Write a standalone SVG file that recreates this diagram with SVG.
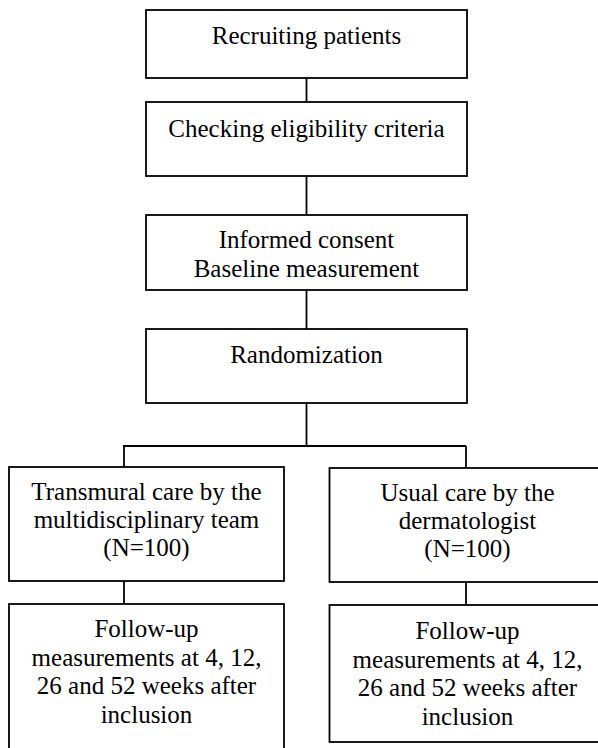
<svg xmlns="http://www.w3.org/2000/svg" width="598" height="748" viewBox="0 0 598 748">
<style>
rect{fill:#fff;stroke:#000;stroke-width:1.8}
.c line{stroke:#000;stroke-width:1.8}
text{font-family:"Liberation Serif","Times New Roman",serif;font-size:25px;fill:#000;text-anchor:middle}
</style>
<g class="c" id="connectors">
<line x1="306.5" y1="78" x2="306.5" y2="102"/>
<line x1="306.5" y1="176" x2="306.5" y2="215"/>
<line x1="306.5" y1="290" x2="306.5" y2="329"/>
<line x1="306.5" y1="403" x2="306.5" y2="446"/>
<line x1="123" y1="446" x2="466" y2="446"/>
<line x1="124" y1="446" x2="124" y2="467"/>
<line x1="466" y1="446" x2="466" y2="468"/>
<line x1="124" y1="581" x2="124" y2="604"/>
<line x1="466" y1="582" x2="466" y2="605"/>
</g>
<g id="recruit"><rect x="146" y="10" width="321" height="68"/><text x="306.5" y="44">Recruiting patients</text></g>
<g id="eligibility"><rect x="146" y="102" width="321" height="74"/><text x="306.5" y="137">Checking eligibility criteria</text></g>
<g id="consent"><rect x="146" y="215" width="321" height="75"/><text x="306.5" y="248">Informed consent</text><text x="306.5" y="277">Baseline measurement</text></g>
<g id="random"><rect x="146" y="329" width="321" height="74"/><text x="306.5" y="363">Randomization</text></g>
<g id="transmural"><rect x="9" y="467" width="275" height="114"/><text x="146.5" y="500">Transmural care by the</text><text x="146.5" y="528">multidisciplinary team</text><text x="146.5" y="556">(N=100)</text></g>
<g id="usual"><rect x="329.5" y="468" width="277" height="114"/><text x="467.5" y="501">Usual care by the</text><text x="467.5" y="529">dermatologist</text><text x="467.5" y="557">(N=100)</text></g>
<g id="followup-left"><rect x="9" y="604" width="275" height="150"/><text x="146.5" y="637">Follow-up</text><text x="146.5" y="666">measurements at 4, 12,</text><text x="146.5" y="694">26 and 52 weeks after</text><text x="146.5" y="723">inclusion</text></g>
<g id="followup-right"><rect x="329.5" y="605" width="277" height="137"/><text x="467.5" y="639">Follow-up</text><text x="467.5" y="668">measurements at 4, 12,</text><text x="467.5" y="696">26 and 52 weeks after</text><text x="467.5" y="725">inclusion</text></g>
</svg>
